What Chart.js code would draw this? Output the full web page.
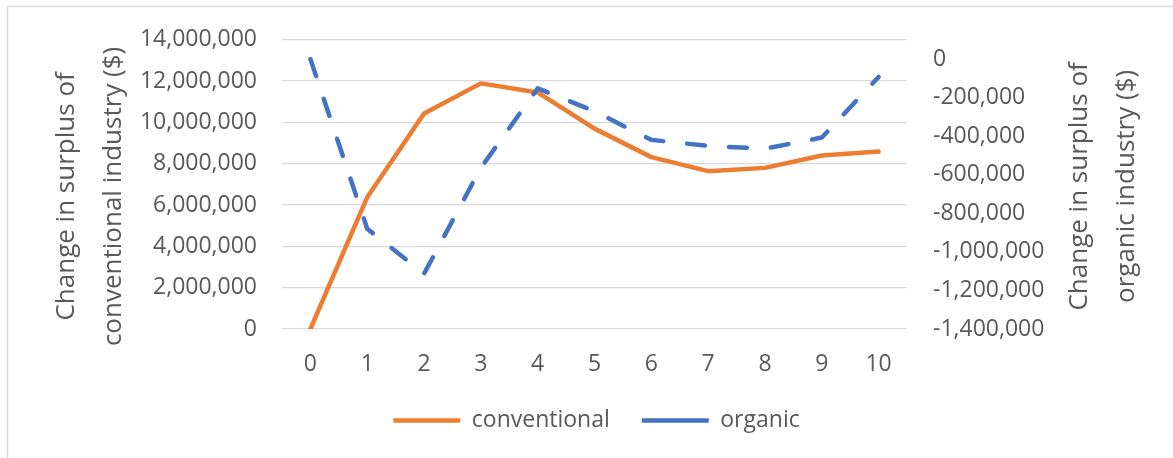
<!DOCTYPE html>
<html>
<head>
<meta charset="utf-8">
<script src="https://cdn.jsdelivr.net/npm/chart.js@4.4.1/dist/chart.umd.min.js"></script>
<style>
  html, body { margin: 0; padding: 0; background: #ffffff; }
  #wrap { width: 1173px; height: 458px; position: relative; }
</style>
</head>
<body>
<div id="wrap"><canvas id="chart" width="1173" height="458"></canvas></div>
<script>
// Years after the change
const years = ['0', '1', '2', '3', '4', '5', '6', '7', '8', '9', '10'];

// Change in surplus, conventional industry ($) — left axis
const conventional = [0, 6380000, 10430000, 11890000, 11450000, 9700000, 8320000, 7640000, 7800000, 8400000, 8590000];

// Change in surplus, organic industry ($) — right axis
const organic = [0, -880000, -1113000, -564000, -152000, -271000, -419000, -450000, -465000, -407000, -93000];

// Axis ranges and steps
const leftAxis = { min: 0, max: 14000000, step: 2000000 };
const rightAxis = { min: -1400000, max: 100000, step: 200000, lastTick: 0 };

const leftTitle = ['Change in surplus of', 'conventional industry ($)'];
const rightTitle = ['Change in surplus of', 'organic industry ($)'];

const FONT = "'Open Sans', 'Noto Sans', sans-serif";
const TEXT = '#595959';
const GRID = '#d9d9d9';
const TICK_SIZE = 23;

const fmt = v => Math.round(v).toLocaleString('en-US');

// Outer frame and rotated axis titles (both read bottom-to-top)
const frameAndTitles = {
  id: 'frameAndTitles',
  beforeDraw(chart) {
    const ctx = chart.ctx;
    ctx.save();
    ctx.fillStyle = '#ffffff';
    ctx.fillRect(0, 0, chart.width, chart.height);
    ctx.strokeStyle = GRID;
    ctx.lineWidth = 1.5;
    ctx.strokeRect(7.5, 6.5, chart.width + 20, chart.height + 20);
    ctx.restore();
  },
  afterDraw(chart) {
    const ctx = chart.ctx;
    const area = chart.chartArea;
    const drawTitle = (lines, x0, yc) => {
      ctx.save();
      ctx.font = '26px ' + FONT;
      ctx.fillStyle = TEXT;
      ctx.textAlign = 'center';
      ctx.textBaseline = 'middle';
      lines.forEach((line, i) => {
        ctx.save();
        ctx.translate(x0 + i * 47, yc);
        ctx.rotate(-Math.PI / 2);
        ctx.fillText(line, 0, 0);
        ctx.restore();
      });
      ctx.restore();
    };
    const mid = (area.top + area.bottom) / 2;
    drawTitle(leftTitle, area.left - 215, mid + 12);
    drawTitle(rightTitle, area.right + 173, mid + 2);
  }
};

new Chart(document.getElementById('chart'), {
  type: 'line',
  data: {
    labels: years,
    datasets: [
      {
        label: 'conventional',
        data: conventional,
        yAxisID: 'y',
        borderColor: '#ed7d31',
        backgroundColor: '#ed7d31',
        borderWidth: 4.5,
        borderCapStyle: 'round',
        borderJoinStyle: 'round',
        pointRadius: 0,
        tension: 0,
        order: 1
      },
      {
        label: 'organic',
        data: organic,
        yAxisID: 'y2',
        borderColor: '#4472c4',
        backgroundColor: '#4472c4',
        borderWidth: 4.5,
        borderDash: [18, 24],
        borderCapStyle: 'round',
        borderJoinStyle: 'round',
        pointRadius: 0,
        tension: 0,
        order: 0
      }
    ]
  },
  options: {
    responsive: false,
    animation: false,
    layout: { padding: { top: 33, left: 20, right: 0, bottom: 16 } },
    plugins: {
      tooltip: { enabled: false },
      legend: {
        position: 'bottom',
        labels: {
          usePointStyle: true,
          pointStyle: 'line',
          pointStyleWidth: 67,
          padding: 32,
          color: TEXT,
          font: { family: FONT, size: TICK_SIZE },
          sort: (a, b) => a.datasetIndex - b.datasetIndex
        }
      }
    },
    scales: {
      x: {
        offset: true,
        grid: { display: false, drawTicks: false },
        border: { display: false },
        ticks: { color: TEXT, font: { family: FONT, size: TICK_SIZE }, padding: 22, maxRotation: 0 },
        afterFit: s => { s.height = 48; }
      },
      y: {
        position: 'left',
        min: leftAxis.min,
        max: leftAxis.max,
        grid: { color: GRID, lineWidth: 1.3, drawTicks: false },
        border: { display: false },
        ticks: {
          stepSize: leftAxis.step,
          color: TEXT,
          font: { family: FONT, size: TICK_SIZE },
          padding: 25,
          callback: v => fmt(v)
        },
        afterFit: s => { s.width = 262; }
      },
      y2: {
        position: 'right',
        min: rightAxis.min,
        max: rightAxis.max,
        grid: { display: false, drawTicks: false },
        border: { display: false },
        ticks: {
          color: TEXT,
          font: { family: FONT, size: TICK_SIZE },
          padding: 26,
          callback: v => fmt(v)
        },
        afterBuildTicks: s => {
          const t = [];
          for (let v = rightAxis.min; v <= rightAxis.lastTick; v += rightAxis.step) t.push({ value: v });
          s.ticks = t;
        },
        afterFit: s => { s.width = 266; }
      }
    }
  },
  plugins: [frameAndTitles]
});
</script>
</body>
</html>
